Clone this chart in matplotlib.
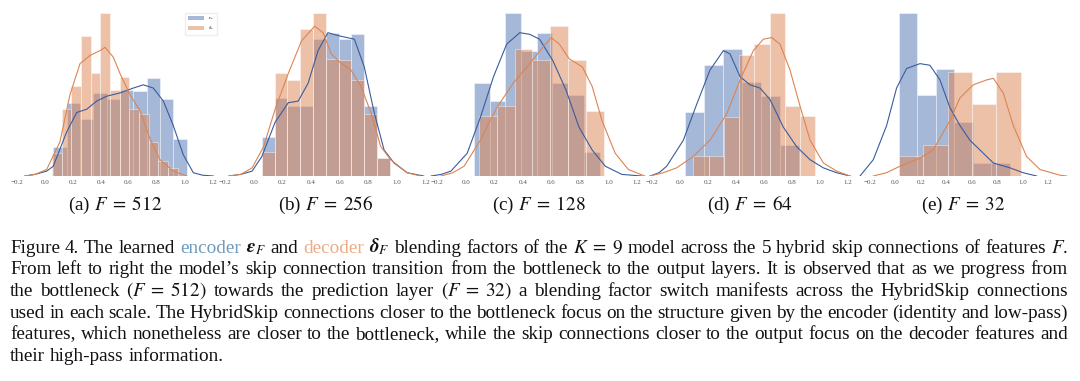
import numpy as np
import matplotlib
matplotlib.use("Agg")
import matplotlib.pyplot as plt
from matplotlib.patches import Patch

# ===== DATA (densities scaled to the tallest bar) =====
panel_letters = ["a", "b", "c", "d", "e"]
feature_sizes = [512, 256, 128, 64, 32]

enc_bin_start = [0.060, 0.057, 0.057, 0.036, 0.029]
enc_bin_width = [0.0956, 0.089, 0.110, 0.136, 0.145]
enc_heights = [
    [0.18, 0.45, 0.35, 0.51, 0.47, 0.53, 0.52, 0.60, 0.47, 0.23],
    [0.24, 0.48, 0.43, 0.43, 0.84, 0.88, 0.84, 0.87, 0.43, 0.11],
    [0.57, 0.46, 1.00, 0.77, 0.88, 0.57, 0.50, 0.15],
    [0.39, 0.68, 0.78, 0.58, 0.49, 0.19],
    [1.00, 0.50, 0.66, 0.33, 0.08, 0.08],
]

dec_bin_start = [0.050, 0.057, 0.092, 0.095, 0.029]
dec_bin_width = [0.0693, 0.089, 0.125, 0.109, 0.191]
dec_heights = [
    [0.14, 0.41, 0.55, 0.86, 0.63, 1.00, 0.53, 0.61, 0.41, 0.38, 0.21, 0.09, 0.05],
    [0.15, 0.63, 0.59, 0.90, 1.00, 0.72, 0.71, 0.59, 0.38, 0.11],
    [0.37, 0.43, 0.78, 0.71, 0.92, 0.71, 0.40],
    [0.12, 0.12, 0.36, 0.74, 0.81, 1.00, 0.43, 0.37],
    [0.12, 0.19, 0.64, 0.44, 0.64],
]

enc_kde_x = [
    [-0.143, -0.07, 0.013, 0.06, 0.156, 0.228, 0.30, 0.371, 0.443, 0.538, 0.634, 0.705, 0.777, 0.849, 0.92, 0.992, 1.064, 1.13, 1.207],
    [-0.172, -0.09, -0.011, 0.057, 0.149, 0.241, 0.31, 0.379, 0.448, 0.517, 0.598, 0.701, 0.77, 0.839, 0.908, 0.977, 1.069, 1.184],
    [-0.241, -0.17, -0.103, 0.011, 0.103, 0.195, 0.287, 0.379, 0.448, 0.517, 0.609, 0.701, 0.793, 0.885, 0.977, 1.092, 1.23],
    [-0.214, -0.15, -0.095, 0.024, 0.119, 0.214, 0.31, 0.357, 0.429, 0.5, 0.571, 0.643, 0.738, 0.833, 0.929, 1.024, 1.119, 1.214],
    [-0.277, -0.173, -0.068, 0.01, 0.089, 0.194, 0.272, 0.351, 0.429, 0.508, 0.586, 0.691, 0.77, 0.901, 1.005, 1.11],
]
enc_kde_y = [
    [0.0, 0.01, 0.03, 0.06, 0.27, 0.39, 0.41, 0.46, 0.49, 0.51, 0.54, 0.56, 0.54, 0.46, 0.31, 0.13, 0.02, 0.005, 0.0],
    [0.0, 0.01, 0.03, 0.12, 0.33, 0.45, 0.46, 0.57, 0.77, 0.88, 0.86, 0.84, 0.67, 0.39, 0.16, 0.08, 0.02, 0.0],
    [0.0, 0.01, 0.03, 0.14, 0.36, 0.61, 0.81, 0.88, 0.87, 0.84, 0.71, 0.53, 0.30, 0.16, 0.06, 0.01, 0.0],
    [0.0, 0.02, 0.06, 0.22, 0.44, 0.65, 0.77, 0.75, 0.61, 0.56, 0.54, 0.47, 0.30, 0.18, 0.10, 0.05, 0.02, 0.0],
    [0.0, 0.10, 0.31, 0.54, 0.66, 0.69, 0.68, 0.59, 0.42, 0.31, 0.22, 0.14, 0.08, 0.05, 0.02, 0.0],
]

dec_kde_x = [
    [-0.143, -0.07, 0.013, 0.108, 0.18, 0.252, 0.323, 0.395, 0.431, 0.49, 0.538, 0.61, 0.682, 0.753, 0.825, 0.92, 1.016],
    [-0.172, -0.09, -0.011, 0.069, 0.149, 0.241, 0.333, 0.425, 0.483, 0.54, 0.598, 0.678, 0.747, 0.816, 0.885, 0.954, 1.069, 1.161],
    [-0.172, -0.09, -0.011, 0.103, 0.218, 0.333, 0.448, 0.54, 0.598, 0.655, 0.724, 0.816, 0.885, 0.954, 1.046, 1.138, 1.253],
    [-0.214, -0.12, -0.024, 0.095, 0.214, 0.333, 0.429, 0.524, 0.595, 0.655, 0.714, 0.786, 0.857, 0.929, 1.024, 1.119, 1.214],
    [-0.173, -0.07, 0.037, 0.194, 0.298, 0.429, 0.508, 0.613, 0.717, 0.77, 0.848, 0.927, 1.031, 1.136, 1.293, 1.346],
]
dec_kde_y = [
    [0.0, 0.01, 0.04, 0.21, 0.50, 0.69, 0.74, 0.77, 0.79, 0.73, 0.63, 0.50, 0.40, 0.23, 0.10, 0.03, 0.0],
    [0.0, 0.01, 0.05, 0.18, 0.41, 0.63, 0.83, 0.92, 0.88, 0.75, 0.70, 0.65, 0.55, 0.39, 0.18, 0.10, 0.02, 0.0],
    [0.0, 0.02, 0.06, 0.22, 0.42, 0.57, 0.69, 0.79, 0.85, 0.81, 0.72, 0.67, 0.55, 0.34, 0.14, 0.04, 0.0],
    [0.0, 0.02, 0.05, 0.12, 0.22, 0.38, 0.59, 0.77, 0.84, 0.85, 0.81, 0.65, 0.43, 0.22, 0.08, 0.03, 0.0],
    [0.0, 0.02, 0.06, 0.11, 0.16, 0.34, 0.48, 0.56, 0.59, 0.60, 0.51, 0.31, 0.12, 0.04, 0.005, 0.0],
]

tick_values = [-0.2, 0.0, 0.2, 0.4, 0.6, 0.8, 1.0, 1.2]

caption_lines = [
    "Figure 4. The learned {e}encoder $\\boldsymbol{\\epsilon}_F$ and {d}decoder $\\boldsymbol{\\delta}_F$ blending factors of the $K\\;=\\;9$ model across the 5 hybrid skip connections of features $F$.",
    "From left to right the model\u2019s skip connection transition from the bottleneck to the output layers.  It is observed that as we progress from",
    "the bottleneck $(F\\;=\\;512)$ towards the prediction layer $(F\\;=\\;32)$ a blending factor switch manifests across the HybridSkip connections",
    "used in each scale. The HybridSkip connections closer to the bottleneck focus on the structure given by the encoder (identity and low-pass)",
    "features, which nonetheless are closer to the bottleneck, while the skip connections closer to the output focus on the decoder features and",
    "their high-pass information.",
]

# ===== STYLE / LAYOUT =====
W, H = 1080, 381
BLUE = "#4C72B0"
ORANGE = "#DD8452"
BLUE_LINE = "#3b5c9c"
ENC_TXT = "#6f9bbd"
DEC_TXT = "#efab88"

# pixel extents and x limits of each panel
panel_px = [(10.0, 219.3), (217.8, 433.2), (429.9, 647.2), (645.0, 855.0), (857.1, 1069.7)]
panel_xlim = [(-0.25, 1.25), (-0.25, 1.25), (-0.25, 1.27), (-0.25, 1.25), (-0.30, 1.37)]
AX_TOP, AX_BOT = 5, 176

plt.rcParams["font.family"] = ["Liberation Serif", "DejaVu Serif"]
plt.rcParams["mathtext.fontset"] = "stix"

fig = plt.figure(figsize=(W / 100, H / 100), dpi=100)

for i in range(5):
    l, r = panel_px[i]
    ax = fig.add_axes([l / W, (H - AX_BOT) / H, (r - l) / W, (AX_BOT - AX_TOP) / H])
    ax.set_facecolor("none")

    n = len(enc_heights[i])
    ax.bar(enc_bin_start[i] + enc_bin_width[i] * np.arange(n), enc_heights[i],
           width=enc_bin_width[i], align="edge", color=BLUE, alpha=0.5,
           edgecolor="white", linewidth=0.6)
    n = len(dec_heights[i])
    ax.bar(dec_bin_start[i] + dec_bin_width[i] * np.arange(n), dec_heights[i],
           width=dec_bin_width[i], align="edge", color=ORANGE, alpha=0.5,
           edgecolor="white", linewidth=0.6)

    ax.plot(enc_kde_x[i], enc_kde_y[i], color=BLUE_LINE, lw=0.8)
    ax.plot(dec_kde_x[i], dec_kde_y[i], color=ORANGE, lw=0.8)

    ax.set_xlim(*panel_xlim[i])
    ax.set_ylim(0, 1.05)
    ax.set_yticks([])
    ax.set_xticks(tick_values)
    ax.set_xticklabels([f"{t:.1f}".replace("-", "\u2212") for t in tick_values])
    ax.tick_params(axis="x", length=0, pad=3.0, labelsize=5, colors="#555555")
    for s in ax.spines.values():
        s.set_visible(False)

    if i == 0:
        handles = [Patch(facecolor=BLUE, alpha=0.5, label="$\\epsilon_F$"),
                   Patch(facecolor=ORANGE, alpha=0.5, label="$\\delta_F$")]
        ax.legend(handles=handles, loc="upper right", bbox_to_anchor=(1.0, 0.97),
                  fontsize=3.5, handlelength=3.2, handleheight=0.9, borderpad=0.6,
                  labelspacing=0.5, framealpha=1, edgecolor="#eeeeee", fancybox=False)

    fig.text((l + r) / 2 / W, 1 - 205 / H,
             f"({panel_letters[i]}) $F\\;=\\;{feature_sizes[i]}$",
             ha="center", va="center", fontsize=13.8, color="#111111")

# ===== CAPTION (justified, word by word) =====
FS = 13.8
LEFT, RIGHT = 10, 1068
BASE0, LEAD = 252.7, 21.66
renderer = fig.canvas.get_renderer()
space_px = 0.25 * FS * 100 / 72

for k, line in enumerate(caption_lines):
    texts = []
    for word in line.split(" "):
        if not word:
            continue
        color = "#111111"
        if word.startswith("{e}"):
            word, color = word[3:], ENC_TXT
        elif word.startswith("{d}"):
            word, color = word[3:], DEC_TXT
        texts.append(fig.text(0, 0, word, color=color, fontsize=FS,
                              ha="left", va="baseline"))
    widths = [t.get_window_extent(renderer).width for t in texts]
    last = k == len(caption_lines) - 1
    gap = space_px if last else (RIGHT - LEFT - sum(widths)) / (len(texts) - 1)
    x = LEFT
    y = 1 - (BASE0 + k * LEAD) / H
    for t, w in zip(texts, widths):
        t.set_position((x / W, y))
        x += w + gap

fig.savefig("out.png", dpi=100)
